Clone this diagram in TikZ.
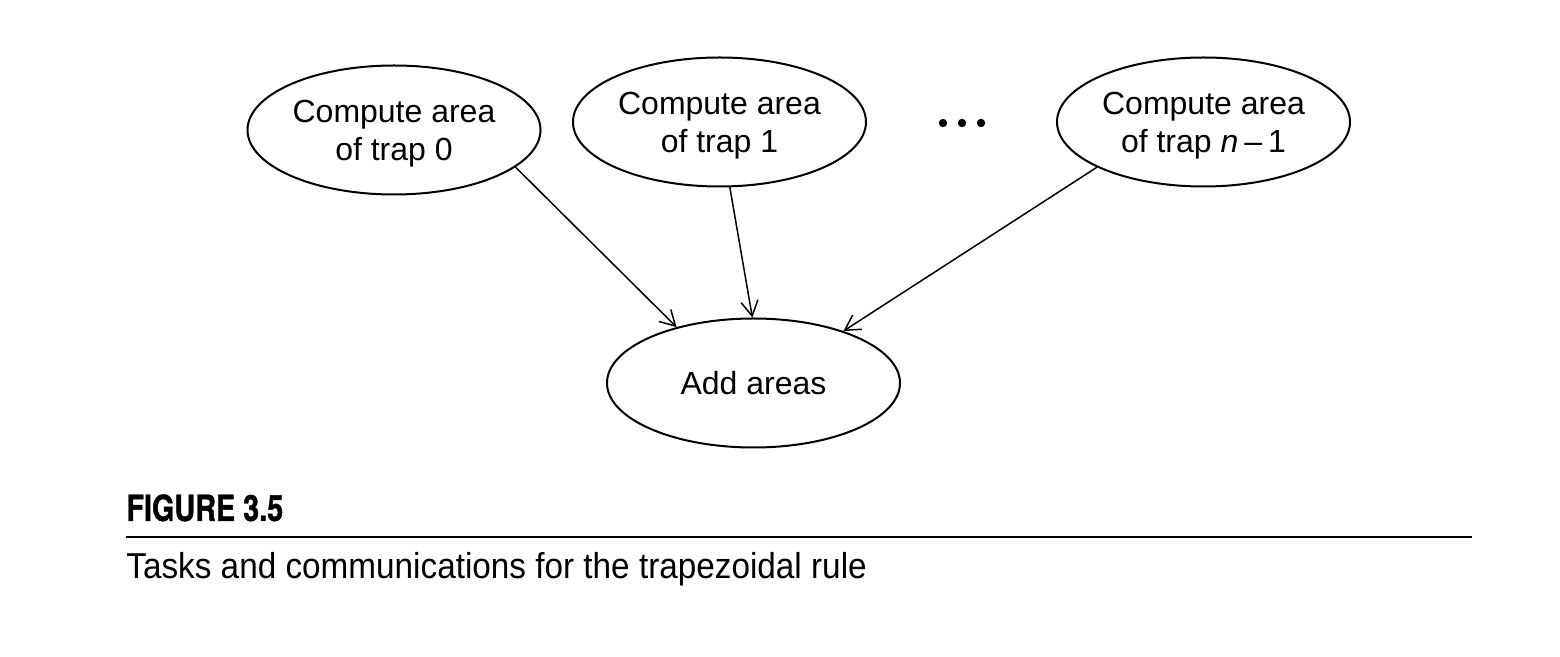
\documentclass[tikz,border=0pt]{standalone}
\usepackage{fontspec}
\setmainfont{Liberation Sans}
\newfontfamily\capbold[FakeStretch=0.80,FakeBold=1.2]{TeX Gyre Heros}
\newfontfamily\caplight[FakeStretch=0.925]{Liberation Sans}
\usetikzlibrary{shapes.geometric,arrows.meta}
\newcommand\toplift{\rule{0pt}{15pt}}
\begin{document}
\begin{tikzpicture}[x=0.5pt,y=-0.5pt,
  task/.style={draw,line width=1pt,ellipse,inner sep=0pt,minimum width=146.5pt,minimum height=64.5pt,
    align=center,font=\fontsize{16}{19}\selectfont},
  comm/.style={line width=0.75pt,-{Straight Barb[length=7.5pt,width=8.5pt,line width=0.75pt]}},
  dotmark/.style={circle,fill=black,inner sep=0pt,minimum size=4.2pt}]
\useasboundingbox (0,0) rectangle (1560,657);
\node[task] (e0) at (394,130) {\toplift Compute area\\of trap 0};
\node[task] (e1) at (719.5,122) {\toplift Compute area\\of trap 1};
\node[task] (e2) at (1203.5,122) {\toplift Compute area\\of trap \textit{n}\kern3pt–\kern3pt1};
\node[task] (e3) at (753.5,383) {Add areas};
\node[dotmark] (d1) at (943,123) {};
\node[dotmark] (d2) at (962,123) {};
\node[dotmark] (d3) at (981,123) {};
\draw[comm] (e0.-17.7) -- (e3.144.8);
\draw[comm] (e1.-81) -- (e3.91);
\draw[comm] (e2.-157.8) -- (e3.30.6);
\node[anchor=base west,inner sep=0pt,font=\capbold\bfseries\fontsize{18}{20}\selectfont] (fig) at (126,521) {FIGURE 3.5};
\coordinate (r0) at (126,537);
\coordinate (r1) at (1472,537);
\draw[line width=0.8pt] (r0) -- (r1);
\node[anchor=base west,inner sep=0pt,font=\caplight\fontsize{18}{20}\selectfont] (cap) at (126,579) {Tasks and communications for the trapezoidal rule};
\end{tikzpicture}
\end{document}
